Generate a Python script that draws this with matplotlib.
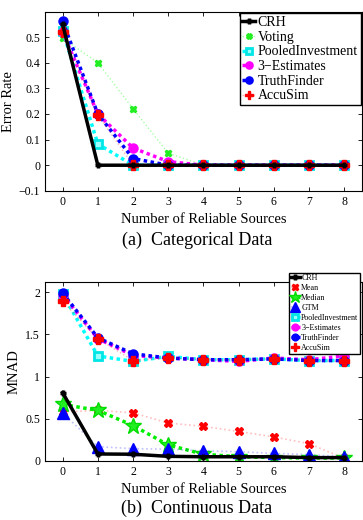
import numpy as np
import matplotlib
matplotlib.use('Agg')
import matplotlib.pyplot as plt

plt.rcParams['font.family'] = ['Liberation Serif', 'DejaVu Serif']
plt.rcParams['mathtext.fontset'] = 'stix'

# number of reliable sources
x = [0, 1, 2, 3, 4, 5, 6, 7, 8]

# (a) categorical data - error rate
cat_crh = [0.55, 0, 0, 0, 0, 0, 0, 0, 0]
cat_voting = [0.496, 0.40, 0.22, 0.047, 0, 0, 0, 0, 0]
cat_pooled = [0.525, 0.083, 0, 0, 0, 0, 0, 0, 0]
cat_3est = [0.52, 0.20, 0.067, 0.014, 0, 0, 0, 0, 0]
cat_truth = [0.561, 0.20, 0.026, 0, 0, 0, 0, 0, 0]
cat_accusim = [0.52, 0.197, 0, 0, 0, 0, 0, 0, 0]

# (b) continuous data - MNAD
con_crh = [0.81, 0.083, 0.08, 0.055, 0.05, 0.05, 0.05, 0.04, 0.04]
con_mean = [0.58, 0.60, 0.57, 0.45, 0.41, 0.35, 0.285, 0.205, 0.03]
con_median = [0.67, 0.60, 0.42, 0.19, 0.08, 0.05, 0.04, 0.035, 0.035]
con_gtm = [0.57, 0.17, 0.146, 0.14, 0.12, 0.11, 0.09, 0.075, 0.05]
con_pooled = [1.98, 1.245, 1.18, 1.24, 1.2, 1.2, 1.21, 1.19, 1.19]
con_3est = [1.97, 1.45, 1.25, 1.22, 1.2, 1.18, 1.22, 1.2, 1.245]
con_truth = [1.99, 1.46, 1.27, 1.22, 1.2, 1.2, 1.21, 1.19, 1.19]
con_accusim = [1.89, 1.45, 1.19, 1.22, 1.2, 1.2, 1.21, 1.19, 1.18]

dots = (0, (1, 1))


def style_axes(ax):
    ax.set_xlim(-0.5, 8.5)
    ax.set_xticks(x)
    ax.tick_params(direction='in', top=True, right=True, labelsize=8.5, length=3, width=0.6)
    for s in ax.spines.values():
        s.set_linewidth(0.8)


fig = plt.figure(figsize=(3.63, 5.2), dpi=100)

# ---- top: categorical
ax1 = fig.add_axes([0.124, 0.633, 0.873, 0.344])
ax1.plot(x, cat_crh, '-', color='k', lw=2.5, marker='+', ms=5, mew=2.5, label='CRH', zorder=5)
ax1.plot(x, cat_voting, ':', color=(0, 1, 0, 0.35), lw=1.0, marker='X', ms=5,
         mfc='#22ee22', mec='#22ee22', label='Voting')
ax1.plot(x, cat_pooled, linestyle=dots, color='#00ffff', lw=2.5, marker='s', ms=6,
         mfc='#99ffff', mec='#00e5e5', mew=2, label='PooledInvestment')
ax1.plot(x, cat_3est, linestyle=dots, color='#ff00ff', lw=2.5, marker='o', ms=6.5,
         mfc='#ff00ff', mec='#ff00ff', label='3\u2212Estimates')
ax1.plot(x, cat_truth, linestyle=dots, color='#0000ff', lw=2.5, marker='o', ms=6.5,
         mfc='#0000ff', mec='#0000ff', label='TruthFinder')
ax1.plot(x, cat_accusim, ':', color=(1, 0, 0, 0.3), lw=1.0, marker='P', ms=7,
         mfc='#ff0000', mec='#ff0000', label='AccuSim')
style_axes(ax1)
ax1.set_ylim(-0.1, 0.598)
ax1.set_yticks([-0.1, 0, 0.1, 0.2, 0.3, 0.4, 0.5])
ax1.set_yticklabels(['\u22120.1', '0', '0.1', '0.2', '0.3', '0.4', '0.5'])
ax1.set_ylabel('Error Rate', fontsize=10.5, labelpad=3)
ax1.set_xlabel('Number of Reliable Sources', fontsize=10.5, labelpad=4)
leg1 = ax1.legend(loc='upper right', bbox_to_anchor=(1.0, 1.0), fontsize=10,
                  handlelength=0.9, handletextpad=0.2, borderpad=0.2, labelspacing=0.12,
                  borderaxespad=0.1, fancybox=False, framealpha=1, edgecolor='k',
                  markerscale=0.8)
leg1.get_frame().set_linewidth(1.0)
fig.text(0.542, 0.538, '(a)  Categorical Data', ha='center', va='center', fontsize=13)

# ---- bottom: continuous
ax2 = fig.add_axes([0.124, 0.1135, 0.873, 0.345])
ax2.plot(x, con_crh, '-', color='k', lw=2.5, marker='+', ms=5, mew=2.5, label='CRH', zorder=5)
ax2.plot(x, con_mean, ':', color=(1, 0, 0, 0.25), lw=1.2, marker='X', ms=6,
         mfc='#ff0000', mec='#ff0000', label='Mean')
ax2.plot(x, con_median, linestyle=dots, color='#00ee00', lw=2.5, marker='*', ms=12,
         mfc='#22ee22', mec='#00dd00', label='Median')
ax2.plot(x, con_gtm, ':', color=(0, 0, 1, 0.25), lw=1.2, marker='^', ms=9,
         mfc='#0000ff', mec='#0000ff', label='GTM')
ax2.plot(x, con_pooled, linestyle=dots, color='#00ffff', lw=2.5, marker='s', ms=6,
         mfc='#99ffff', mec='#00e5e5', mew=2, label='PooledInvestment')
ax2.plot(x, con_3est, linestyle=dots, color='#ff00ff', lw=2.5, marker='o', ms=6.5,
         mfc='#ff00ff', mec='#ff00ff', label='3\u2212Estimates')
ax2.plot(x, con_truth, linestyle=dots, color='#0000ff', lw=2.5, marker='o', ms=6.5,
         mfc='#0000ff', mec='#0000ff', label='TruthFinder')
ax2.plot(x, con_accusim, ':', color=(1, 0, 0, 0.3), lw=1.0, marker='P', ms=7,
         mfc='#ff0000', mec='#ff0000', label='AccuSim')
style_axes(ax2)
ax2.set_ylim(0, 2.126)
ax2.set_yticks([0, 0.5, 1, 1.5, 2])
ax2.set_yticklabels(['0', '0.5', '1', '1.5', '2'])
ax2.set_ylabel('MNAD', fontsize=10.5, labelpad=3)
ax2.set_xlabel('Number of Reliable Sources', fontsize=10.5, labelpad=4)
leg2 = ax2.legend(loc='upper right', bbox_to_anchor=(0.994, 1.05), fontsize=5.8,
                  handlelength=1.1, handletextpad=0.2, borderpad=0.2, labelspacing=0.25,
                  borderaxespad=0.0, fancybox=False, framealpha=1, edgecolor='k',
                  markerscale=0.75)
leg2.get_frame().set_linewidth(1.0)
fig.text(0.542, 0.023, '(b)  Continuous Data', ha='center', va='center', fontsize=13)

fig.savefig('out.png', dpi=100)
